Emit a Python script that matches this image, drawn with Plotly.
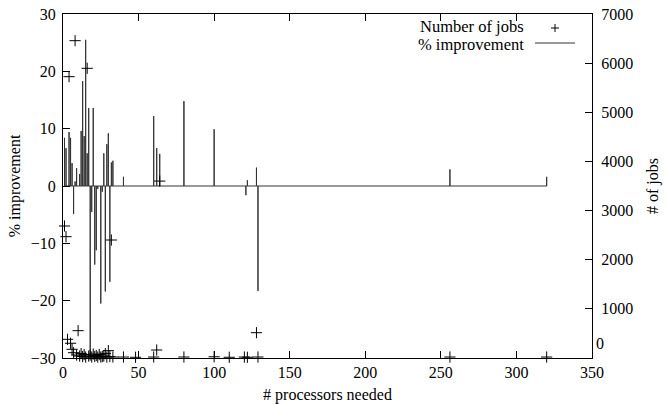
import plotly.graph_objects as go

# % improvement per processor count
imp_procs = [1, 2, 4, 5, 6, 7, 8, 9, 11, 12, 13, 14, 15, 16, 17, 18, 19, 20, 21, 22,
             23, 25, 26, 27, 28, 29, 30, 31, 32, 33, 40, 60, 62, 64, 80, 100, 121,
             122, 128, 129, 256, 320]
imp_vals = [8.4, 6.6, 9.4, 8.4, 4.0, -4.9, 0.8, 3.1, 2.1, 9.6, 18.3, 8.7, 25.5, 5.7,
            13.6, -29.8, -4.5, 13.6, -13.7, -11.2, -0.5, -20.5, -1.0, 5.7, -18.4,
            7.3, 9.2, -16.7, 4.1, 4.4, 1.6, 12.2, 6.6, 5.6, 14.8, 9.9, -1.6, 1.0,
            3.2, -18.3, 2.9, 1.6]

# number of jobs per processor count
job_procs = [1, 2, 3, 4, 5, 6, 7, 8, 9, 10, 11, 12, 13, 14, 15, 16, 17, 18, 19, 20,
             21, 22, 23, 24, 25, 26, 27, 28, 29, 30, 31, 32, 33, 40, 48, 60, 62, 64,
             80, 100, 110, 120, 122, 128, 129, 256, 320]
jobs = [2686, 2469, 380, 5725, 300, 177, 108, 6457, 60, 556, 40, 90, 30, 70, 20,
        5895, 40, 60, 20, 80, 30, 50, 20, 70, 20, 30, 40, 90, 20, 150, 30, 2401, 20,
        20, 15, 20, 163, 3600, 20, 25, 15, 20, 15, 515, 20, 20, 20]

x_ticks = [0, 50, 100, 150, 200, 250, 300, 350]
y_ticks = [-30, -20, -10, 0, 10, 20, 30]
y2_ticks = [0, 1000, 2000, 3000, 4000, 5000, 6000, 7000]
y2_labels = ["", "1000", "2000", "3000", "4000", "5000", "6000", "7000"]

FONT = "Liberation Serif, Times New Roman, serif"
FS = 16

# impulse path: baseline along 0, spikes up/down to each value
px, py = [], []
for p, v in zip(imp_procs, imp_vals):
    px += [p, p, p]
    py += [0, v, 0]

fig = go.Figure()
fig.add_trace(go.Scatter(x=px, y=py, mode="lines",
                         line=dict(color="#333333", width=1),
                         name="% improvement", showlegend=False, yaxis="y"))
fig.add_trace(go.Scatter(x=job_procs, y=jobs, mode="markers",
                         marker=dict(symbol="cross-thin", size=8,
                                     line=dict(color="black", width=1), color="black"),
                         name="Number of jobs", showlegend=False, yaxis="y2",
                         cliponaxis=False))

# legend (gnuplot style: text then sample)
L, R, T, B = 63, 592, 14, 358
def pxx(v):
    return (v - L) / (R - L)
def pyy(v):
    return (B - v) / (B - T)

tickfont = dict(family=FONT, size=FS, color="black")
legfont = dict(family=FONT, size=16.5, color="black")
fig.add_annotation(x=pxx(526), y=pyy(27), xref="paper", yref="paper",
                   text="Number of jobs", showarrow=False, xanchor="right",
                   yanchor="middle", font=legfont)
fig.add_annotation(x=pxx(526), y=pyy(44), xref="paper", yref="paper",
                   text="% improvement", showarrow=False, xanchor="right",
                   yanchor="middle", font=legfont)
fig.add_shape(type="line", xref="paper", yref="paper", x0=pxx(535), x1=pxx(575),
              y0=pyy(43), y1=pyy(43), line=dict(color="#333333", width=1))
fig.add_shape(type="line", xref="paper", yref="paper", x0=pxx(551), x1=pxx(559),
              y0=pyy(28), y1=pyy(28), line=dict(color="black", width=1))
fig.add_shape(type="line", xref="paper", yref="paper", x0=pxx(555), x1=pxx(555),
              y0=pyy(24), y1=pyy(32), line=dict(color="black", width=1))
# right-axis zero label, raised above the x tick label as in the reference
fig.add_annotation(x=1, y=pyy(343), xref="paper", yref="paper", text="0",
                   showarrow=False, xanchor="left", yanchor="middle",
                   xshift=2, font=tickfont)

fig.update_layout(
    width=668, height=404,
    margin=dict(l=L, r=668 - R, t=T, b=404 - B, autoexpand=False),
    paper_bgcolor="white", plot_bgcolor="white",
    showlegend=False,
    font=dict(family=FONT, size=FS, color="black"),
    xaxis=dict(range=[0, 350], tickvals=x_ticks, ticks="inside", ticklen=7,
               tickcolor="black", showline=True, linecolor="black", linewidth=1,
               mirror="ticks", showgrid=False, zeroline=False, tickfont=tickfont,
               automargin=False,
               title=dict(text="# processors needed", font=tickfont, standoff=10)),
    yaxis=dict(range=[-30, 30], tickvals=y_ticks, ticks="inside", ticklen=7,
               tickcolor="black", showline=True, linecolor="black", linewidth=1,
               showgrid=False, zeroline=False, tickfont=tickfont, automargin=False,
               ticklabelstandoff=3,
               title=dict(text="% improvement", font=tickfont, standoff=6)),
    yaxis2=dict(range=[0, 7000], tickvals=y2_ticks, ticktext=y2_labels,
                ticks="inside", ticklen=7, ticklabelstandoff=5,
                tickcolor="black", showline=True, linecolor="black", linewidth=1,
                overlaying="y", side="right", showgrid=False, zeroline=False,
                tickfont=tickfont, automargin=False,
                title=dict(text="# of jobs", font=tickfont, standoff=14)),
)

fig.write_html("out.html")
